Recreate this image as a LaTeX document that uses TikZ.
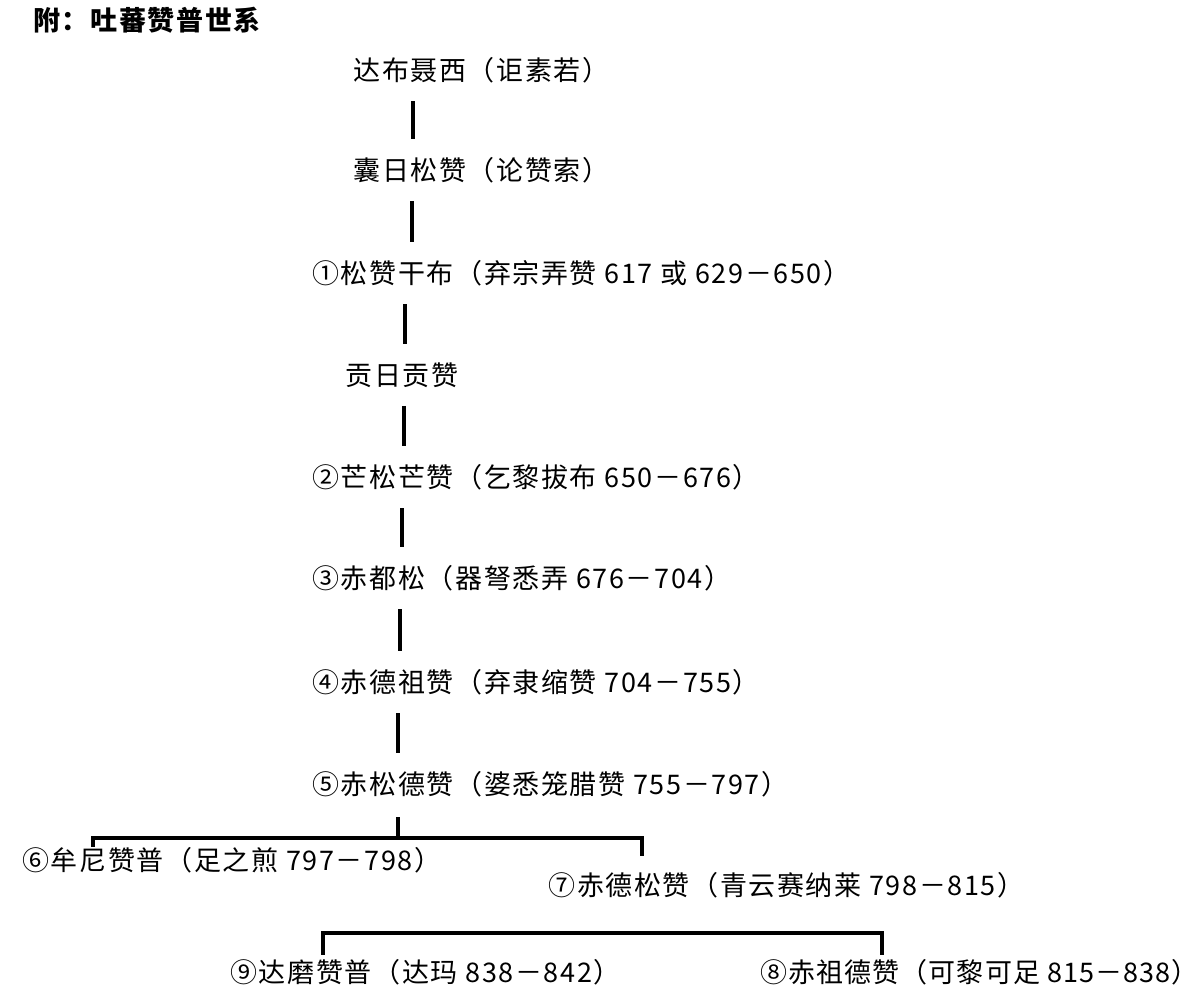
\documentclass[tikz,border=0pt]{standalone}
\usepackage{fontspec}
\setmainfont{Noto Sans CJK SC}[LetterSpace=6]
\newfontfamily\tightcjk{Noto Sans CJK SC}[LetterSpace=4]
\begin{document}
\begin{tikzpicture}[x=0.5pt,y=-0.5pt,
  lbl/.style={anchor=west,inner sep=0pt,font=\fontsize{13.5pt}{16pt}\selectfont},
  lblt/.style={anchor=west,inner sep=0pt,font=\tightcjk\fontsize{13.5pt}{16pt}\selectfont},
  lblb/.style={anchor=west,inner sep=0pt,font=\bfseries\fontsize{13.5pt}{16pt}\selectfont},
  vl/.style={line width=1.6pt,shorten <=9pt,shorten >=9pt},
  br/.style={line width=1.6pt}]
\useasboundingbox[fill=white] (0,0) rectangle (1202,1000);
% texts
\node[lblb] (t)   at (33,20)  {附：吐蕃赞普世系};
\node[lbl]  (n0)  at (353,70) {达布聂西（讵素若）};
\node[lbl]  (n1)  at (353,170) {囊日松赞（论赞索）};
\node[lbl]  (n2)  at (312,273) {①松赞干布（弃宗弄赞 617 或 629－650）};
\node[lbl]  (n3)  at (345,375) {贡日贡赞};
\node[lbl]  (n4)  at (312,477) {②芒松芒赞（乞黎拔布 650－676）};
\node[lbl]  (n5)  at (312,578) {③赤都松（器弩悉弄 676－704）};
\node[lbl]  (n6)  at (312,682) {④赤德祖赞（弃隶缩赞 704－755）};
\node[lbl]  (n7)  at (312,784) {⑤赤松德赞（婆悉笼腊赞 755－797）};
\node[lbl]  (n8)  at (22,860)  {⑥牟尼赞普（足之煎 797－798）};
\node[lbl]  (n9)  at (548,885) {⑦赤德松赞（青云赛纳莱 798－815）};
\node[lbl]  (n10) at (230,972) {⑨达磨赞普（达玛 838－842）};
\node[lblt] (n11) at (760,972) {⑧赤祖德赞（可黎可足 815－838）};
% line positions
\coordinate (x1) at (413,0);
\coordinate (x2) at (412,0);
\coordinate (x3) at (405,0);
\coordinate (x4) at (404,0);
\coordinate (x5) at (402,0);
\coordinate (x6) at (400,0);
\coordinate (x7) at (398,0);
\coordinate (x8) at (398,0);
\coordinate (b1L) at (93,838);
\coordinate (b1R) at (642,838);
\coordinate (b2L) at (323,933);
\coordinate (b2R) at (882,933);
% vertical connectors
\draw[vl] (n0.south -| x1) -- (n1.north -| x1);
\draw[vl] (n1.south -| x2) -- (n2.north -| x2);
\draw[vl] (n2.south -| x3) -- (n3.north -| x3);
\draw[vl] (n3.south -| x4) -- (n4.north -| x4);
\draw[vl] (n4.south -| x5) -- (n5.north -| x5);
\draw[vl] (n5.south -| x6) -- (n6.north -| x6);
\draw[vl] (n6.south -| x7) -- (n7.north -| x7);
% brackets
\draw[br] ([yshift=-10pt]n7.south -| x8) -- (x8 |- b1L);
\draw[br] (n8.north -| b1L) -- (b1L) -- (b1R) -- ([yshift=8pt]n9.north -| b1R);
\draw[br] ([yshift=2pt]n10.north -| b2L) -- (b2L) -- (b2R) -- ([yshift=2pt]n11.north -| b2R);
\end{tikzpicture}
\end{document}
